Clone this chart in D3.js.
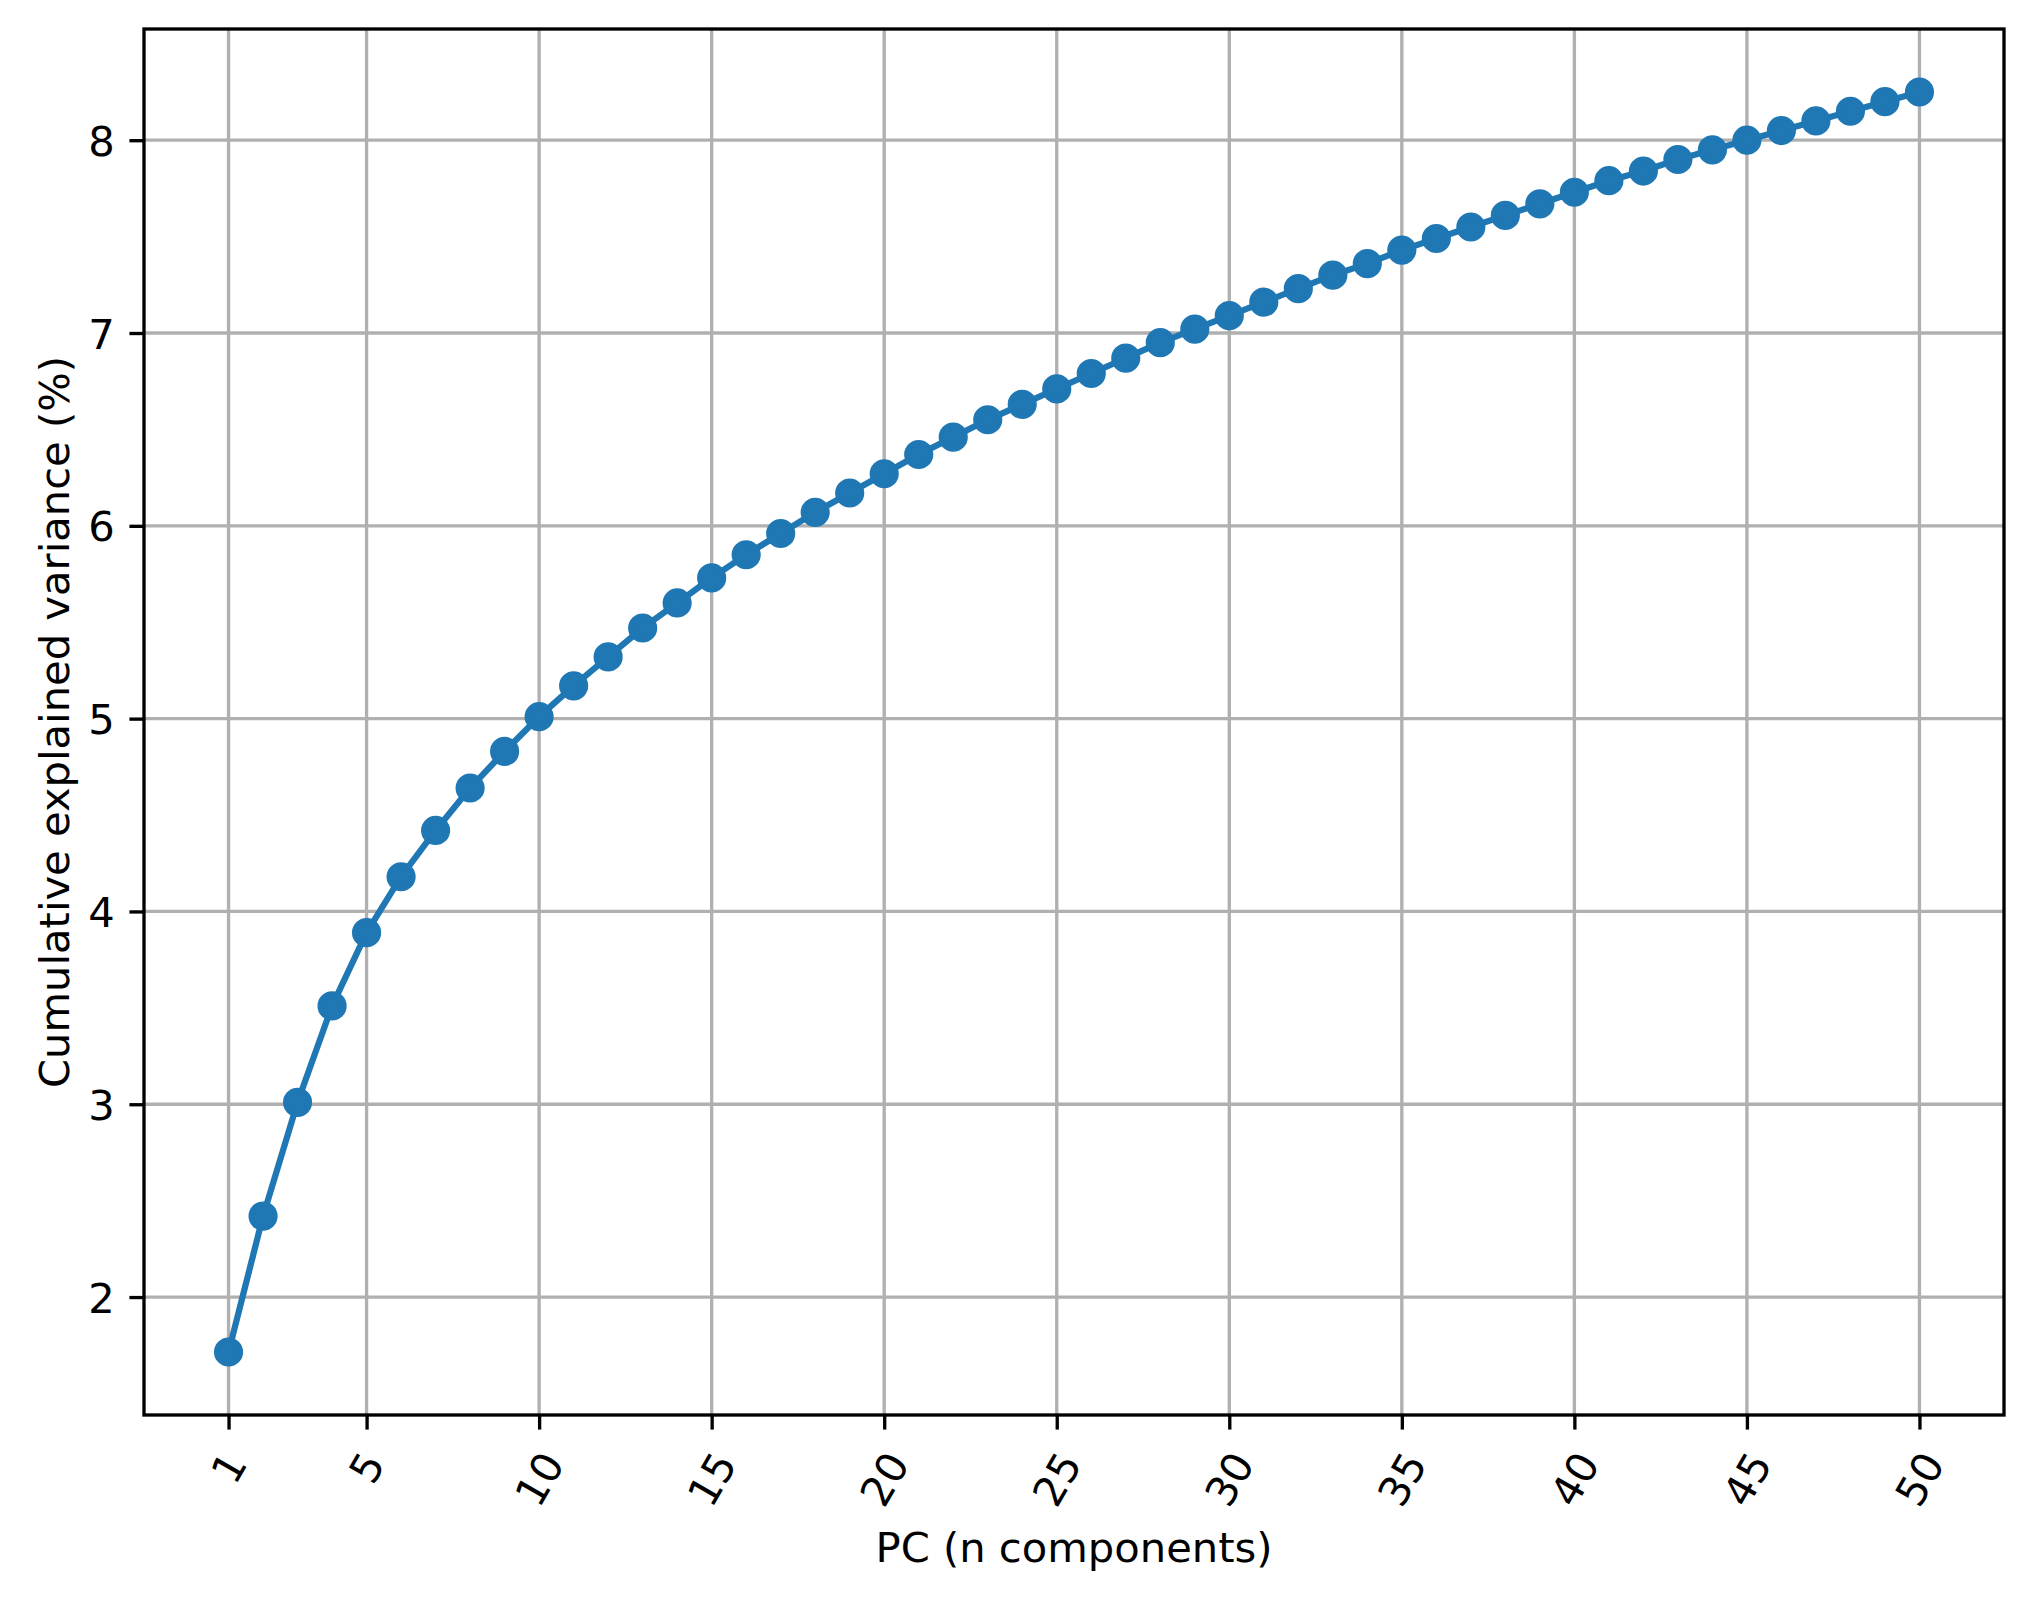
<!DOCTYPE html>
<html><head><meta charset="utf-8">
<script src="https://cdn.jsdelivr.net/npm/d3@7/dist/d3.min.js"></script>
<style>
body{margin:0;background:#fff}
svg{display:block}
text{font-family:"DejaVu Sans",sans-serif;fill:#000}
</style>
</head><body>
<svg id="chart" width="2034" height="1600"></svg>
<script>
// ---- data ----
const components = d3.range(1, 51);
const cumulativeVariance = [
  1.715, 2.42, 3.01, 3.51, 3.89, 4.18, 4.42, 4.64, 4.83, 5.01,
  5.17, 5.32, 5.47, 5.60, 5.73, 5.85, 5.96, 6.07, 6.17, 6.27,
  6.37, 6.46, 6.55, 6.63, 6.71, 6.79, 6.87, 6.95, 7.02, 7.09,
  7.16, 7.23, 7.30, 7.36, 7.43, 7.49, 7.55, 7.61, 7.67, 7.73,
  7.79, 7.84, 7.90, 7.95, 8.00, 8.05, 8.10, 8.15, 8.20, 8.25
];
const xTickValues = [1, 5, 10, 15, 20, 25, 30, 35, 40, 45, 50];
const yTickValues = [2, 3, 4, 5, 6, 7, 8];
const xLabelText = "PC (n components)";
const yLabelText = "Cumulative explained variance (%)";

// ---- layout ----
const pt = 300 / 72;
const fontSize = 10 * pt;
const plotLeft = 144, plotRight = 2004, plotTop = 29, plotBottom = 1415;
const tickLen = 3.5 * pt, tickPad = 3.5 * pt;
const svg = d3.select("#chart");

const xMin = d3.min(components), xMax = d3.max(components);
const xm = (xMax - xMin) * 0.05;
const yMin = d3.min(cumulativeVariance), yMax = d3.max(cumulativeVariance);
const ym = (yMax - yMin) * 0.05;

const x = d3.scaleLinear().domain([xMin - xm, xMax + xm]).range([plotLeft, plotRight]);
const y = d3.scaleLinear().domain([yMin - ym, yMax + ym]).range([plotBottom, plotTop]);

// grid
const grid = svg.append("g").attr("stroke", "#b0b0b0").attr("stroke-width", 0.8 * pt);
grid.selectAll(".gx").data(xTickValues).enter().append("line")
  .attr("x1", d => x(d)).attr("x2", d => x(d)).attr("y1", plotTop).attr("y2", plotBottom);
grid.selectAll(".gy").data(yTickValues).enter().append("line")
  .attr("y1", d => y(d)).attr("y2", d => y(d)).attr("x1", plotLeft).attr("x2", plotRight);

// line + markers
const data = components.map((c, i) => ({c, v: cumulativeVariance[i]}));
svg.append("path").datum(data)
  .attr("fill", "none").attr("stroke", "#1f77b4").attr("stroke-width", 1.5 * pt)
  .attr("stroke-linejoin", "round")
  .attr("d", d3.line().x(d => x(d.c)).y(d => y(d.v)));
svg.append("g").selectAll("circle").data(data).enter().append("circle")
  .attr("cx", d => x(d.c)).attr("cy", d => y(d.v)).attr("r", 3 * pt)
  .attr("fill", "#1f77b4").attr("stroke", "#1f77b4").attr("stroke-width", 1 * pt);

// axes
const xAxis = svg.append("g").attr("transform", `translate(0,${plotBottom})`)
  .call(d3.axisBottom(x).tickValues(xTickValues).tickSize(tickLen).tickPadding(tickPad).tickFormat(d3.format("d")));
const yAxis = svg.append("g").attr("transform", `translate(${plotLeft},0)`)
  .call(d3.axisLeft(y).tickValues(yTickValues).tickSize(tickLen).tickPadding(tickPad).tickFormat(d3.format("d")));
[xAxis, yAxis].forEach(a => {
  a.select(".domain").remove();
  a.selectAll(".tick line").attr("stroke", "#000").attr("stroke-width", 0.8 * pt);
  a.selectAll("text").attr("font-size", fontSize).attr("font-family", "DejaVu Sans").attr("fill", "#000");
});
yAxis.selectAll("text").attr("dy", "0.36em");

// rotate x tick labels (60 deg, centered bbox below tick)
const th = fontSize * 1.17;
xAxis.selectAll(".tick text").each(function() {
  const t = d3.select(this);
  const w = this.getComputedTextLength();
  const bh = w * Math.sin(Math.PI / 3) + th * Math.cos(Math.PI / 3);
  t.attr("y", null).attr("dy", null).attr("x", null)
   .attr("text-anchor", "middle").attr("dominant-baseline", "central")
   .attr("transform", `translate(0,${tickLen + tickPad + bh / 2}) rotate(-60)`);
});

// spines
svg.append("rect").attr("x", plotLeft).attr("y", plotTop).attr("width", plotRight - plotLeft).attr("height", plotBottom - plotTop)
  .attr("fill", "none").attr("stroke", "#000").attr("stroke-width", 0.8 * pt);

// axis labels
svg.append("text").attr("x", (plotLeft + plotRight) / 2).attr("y", 1562)
  .attr("text-anchor", "middle").attr("font-size", fontSize).text(xLabelText);
svg.append("text").attr("transform", `translate(69,${(plotTop + plotBottom) / 2}) rotate(-90)`)
  .attr("text-anchor", "middle").attr("font-size", fontSize).text(yLabelText);
</script>
</body></html>
